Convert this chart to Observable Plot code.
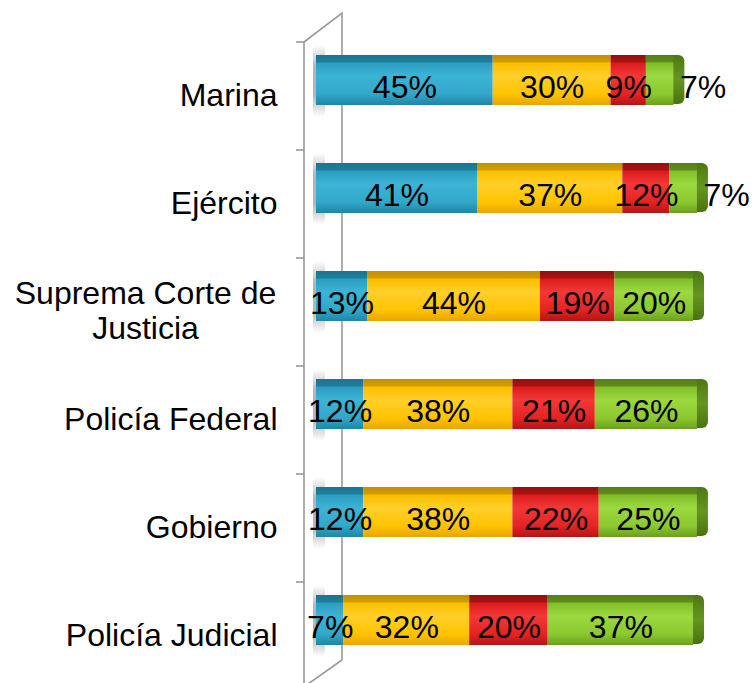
<!DOCTYPE html>
<html>
<head>
<meta charset="utf-8">
<script src="https://cdn.jsdelivr.net/npm/d3@7"></script>
<script src="https://cdn.jsdelivr.net/npm/@observablehq/plot@0.6"></script>
<style>
  html, body { margin: 0; padding: 0; background: #fff; }
  #chart svg { display: block; }
</style>
</head>
<body>
<div id="chart"></div>
<script>
// ---- data ----
const categories = ["Marina", "Ejército", "Suprema Corte de Justicia", "Policía Federal", "Gobierno", "Policía Judicial"];
const seriesNames = ["Serie 1", "Serie 2", "Serie 3", "Serie 4"];
const serie1 = [45, 41, 13, 12, 12, 7];
const serie2 = [30, 37, 44, 38, 38, 32];
const serie3 = [9, 12, 19, 21, 22, 20];
const serie4 = [7, 7, 20, 26, 25, 37];

const seriesValues = [serie1, serie2, serie3, serie4];
const rows = [];
categories.forEach((cat, i) => {
  seriesValues.forEach((vals, s) => {
    rows.push({cat, series: seriesNames[s], value: vals[i], last: s === seriesValues.length - 1});
  });
});
const totals = categories.map((cat, i) => ({cat, total: d3.sum(seriesValues, v => v[i])}));
const outside = rows.filter(d => d.last && d.value < 10)
  .map(d => ({...d, total: totals.find(t => t.cat === d.cat).total}));

const FONT = "Liberation Sans, Arial, sans-serif";
const FS = 32;
const gradIds = ["gBlue", "gYellow", "gRed", "gGreen"];
const INSET = 29;

const chart = Plot.plot({
  width: 754,
  height: 683,
  marginLeft: 316,
  marginRight: 6,
  marginTop: 26,
  marginBottom: 9,
  style: {fontFamily: FONT, background: "#fff"},
  x: {domain: [0, 110], axis: null},
  y: {domain: categories, padding: 0, axis: null},
  color: {domain: seriesNames, range: gradIds.map(id => `url(#${id})`)},
  marks: [
    // end caps (3D right end)
    Plot.barX(totals, {x1: "total", x2: "total", y: "cat", insetTop: INSET, insetBottom: INSET + 1,
      insetLeft: -6, insetRight: -11, rx: 6, fill: "#5E8C1C", className: "cap"}),
    Plot.barX(rows, {x: "value", y: "cat", fill: "series", insetTop: INSET, insetBottom: INSET}),
    Plot.text(rows, Plot.stackX({x: "value", y: "cat", z: "series",
      text: d => (d.last && d.value < 10) ? null : d.value + "%",
      fontSize: FS, fill: "#000", dy: 7})),
    Plot.text(outside, {x: "total", y: "cat", text: d => d.value + "%", textAnchor: "start",
      dx: 6, dy: 7, fontSize: FS, fill: "#000"}),
    // category labels
    Plot.text(categories.filter(c => c.length < 20), {y: d => d, text: d => d, frameAnchor: "left",
      textAnchor: "end", dx: -39, dy: 15, fontSize: FS, fill: "#000"}),
    Plot.text(categories.filter(c => c.length >= 20), {y: d => d, text: d => d, frameAnchor: "left",
      textAnchor: "middle", dx: -171, dy: 14, fontSize: FS, lineWidth: 9, lineHeight: 1.1, fill: "#000"})
  ]
});

document.getElementById("chart").appendChild(chart);

// ---- gradients and wall decoration, positioned via the chart's scales ----
const svg = d3.select(chart);
const defs = svg.insert("defs", ":first-child");
const gradStops = {
  gBlue:   [[0, "#1A7590"], [0.13, "#1E7E9A"], [0.17, "#2C9EC1"], [0.42, "#3CB4D6"], [0.78, "#32A7CA"], [1, "#1E86A5"]],
  gYellow: [[0, "#C48E00"], [0.13, "#D29C00"], [0.17, "#FDBE00"], [0.42, "#FFD02A"], [0.78, "#FFC300"], [1, "#E6A600"]],
  gRed:    [[0, "#960E0E"], [0.13, "#A81212"], [0.17, "#DE1C1C"], [0.42, "#F33838"], [0.78, "#E52323"], [1, "#B51414"]],
  gGreen:  [[0, "#557F15"], [0.13, "#5E8C19"], [0.17, "#82BE28"], [0.42, "#9CD840"], [0.78, "#8BC92F"], [1, "#6A9F1E"]],
  gCap:    [[0, "#4F7812"], [0.5, "#65961F"], [1, "#4A7211"]],
  gShadow: [[0, "rgba(120,120,120,0)"], [0.3, "rgba(120,120,120,0.55)"], [0.7, "rgba(120,120,120,0.55)"], [1, "rgba(120,120,120,0)"]]
};
for (const [id, stops] of Object.entries(gradStops)) {
  const g = defs.append("linearGradient").attr("id", id).attr("x1", 0).attr("y1", 0).attr("x2", 0).attr("y2", 1);
  for (const [o, c] of stops) g.append("stop").attr("offset", o).attr("stop-color", c);
}
svg.selectAll(".cap rect, g.cap rect").attr("fill", "url(#gCap)");

const xs = chart.scale("x"), ys = chart.scale("y");
const x0 = xs.apply(0);
const bw = ys.bandwidth;
const left = x0 - 12, right = x0 + 26;
const tickYs = categories.map(c => ys.apply(c) + 16);
const yTop = tickYs[0];
const yBottomRight = ys.apply(categories[categories.length - 1]) + bw - 14;
const wall = svg.insert("g", "defs + *");
// soft shadows cast on the wall by each bar
for (const c of categories) {
  const yb = ys.apply(c) + INSET;
  wall.append("rect").attr("x", x0 - 3).attr("y", yb - 10).attr("width", 12).attr("height", bw - 2 * INSET + 22)
    .attr("fill", "url(#gShadow)").attr("rx", 5);
}
const lines = wall.append("g").attr("stroke", "#9a9a9a").attr("stroke-width", 1.6).attr("fill", "none");
lines.append("path").attr("d",
  `M${left},${yTop}L${right},${yTop - 29}L${right},${yBottomRight}L${left + 4},${yBottomRight + 24}`);
lines.append("line").attr("x1", left).attr("x2", left).attr("y1", yTop).attr("y2", 683);
for (const ty of tickYs) {
  lines.append("line").attr("x1", left - 8).attr("x2", left).attr("y1", ty).attr("y2", ty);
}
</script>
</body>
</html>
